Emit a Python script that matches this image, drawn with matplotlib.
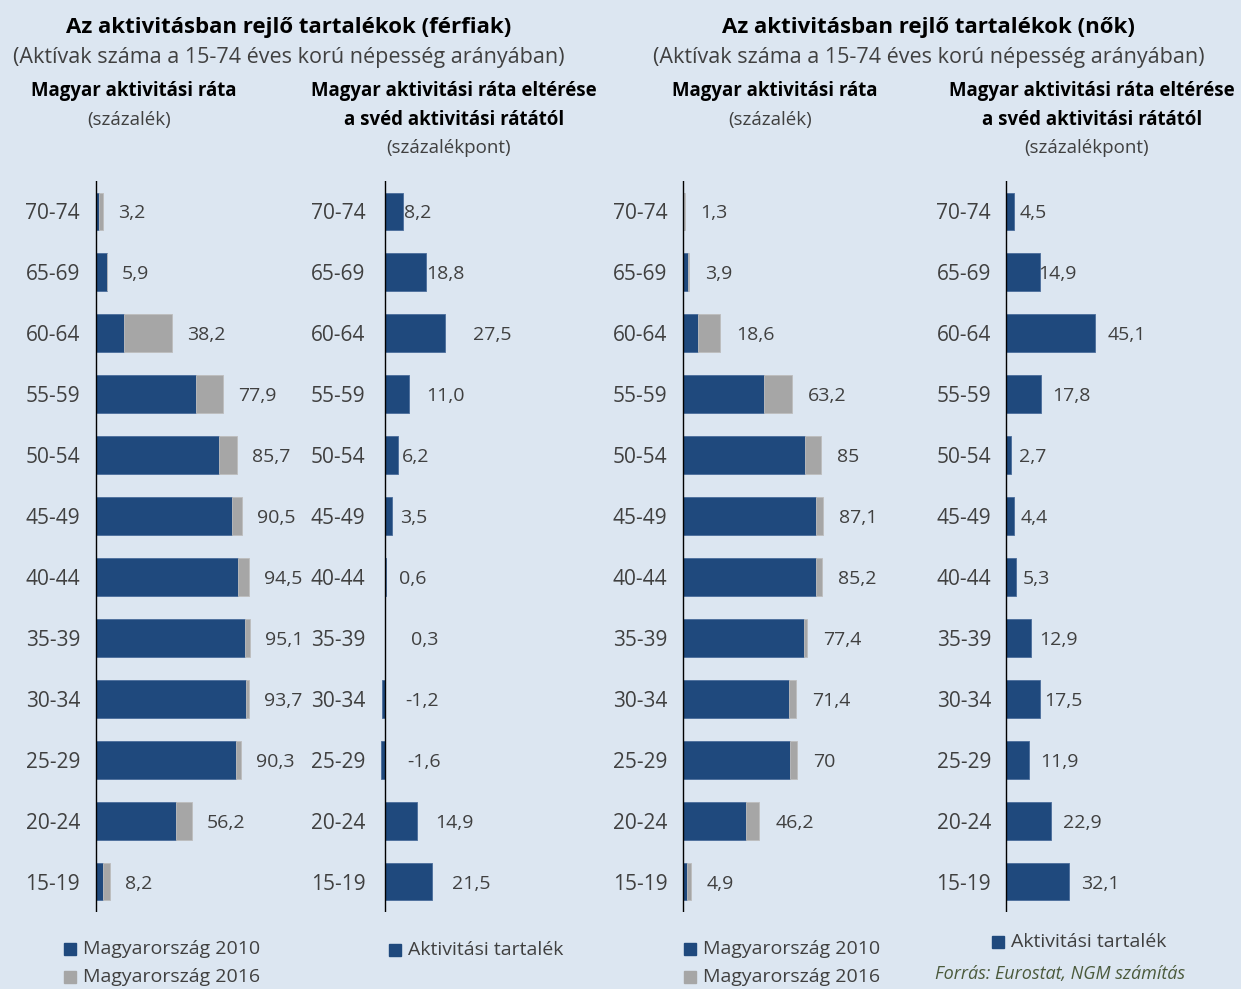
import matplotlib.pyplot as plt
import numpy as np
from matplotlib.patches import Rectangle

plt.rcParams['font.family'] = ['Open Sans', 'DejaVu Sans']

W, H = 1241, 989
BG = '#dce6f1'
BLUE = '#1f497d'
GREY = '#a6a6a6'
TXT = '#404040'

ages = ['70-74', '65-69', '60-64', '55-59', '50-54', '45-49',
        '40-44', '35-39', '30-34', '25-29', '20-24', '15-19']

# ferfiak
men_2010 = [2.0, 6.5, 17.0, 61.9, 76.1, 84.1, 87.8, 91.7, 92.3, 86.2, 49.4, 4.1]
men_2016 = [4.3, 6.5, 46.9, 78.6, 86.8, 90.3, 94.4, 94.8, 94.6, 89.5, 59.3, 8.4]
men_labels = ['3,2', '5,9', '38,2', '77,9', '85,7', '90,5', '94,5', '95,1',
              '93,7', '90,3', '56,2', '8,2']
men_gap = [8.2, 18.8, 27.5, 11.0, 6.2, 3.5, 0.6, 0.3, -1.2, -1.6, 14.9, 21.5]
men_gap_labels = ['8,2', '18,8', '27,5', '11,0', '6,2', '3,5', '0,6', '0,3',
                  '-1,2', '-1,6', '14,9', '21,5']

# nok
women_2010 = [1.2, 3.7, 9.7, 50.4, 75.7, 82.7, 82.1, 75.3, 65.7, 66.5, 39.3, 2.9]
women_2016 = [1.3, 3.9, 23.3, 67.5, 85.2, 87.0, 86.0, 76.8, 70.0, 70.8, 47.5, 5.2]
women_labels = ['1,3', '3,9', '18,6', '63,2', '85', '87,1', '85,2', '77,4',
                '71,4', '70', '46,2', '4,9']
women_gap = [4.3, 17.4, 45.5, 17.8, 2.4, 4.3, 5.1, 12.8, 17.4, 11.8, 22.9, 32.3]
women_gap_labels = ['4,5', '14,9', '45,1', '17,8', '2,7', '4,4', '5,3', '12,9',
                    '17,5', '11,9', '22,9', '32,1']

# label gaps (px) for the two difference panels
men_gap_off = [1, 0, 28, 17, 4, 8, 13, 26, 21, 23, 18, 20]
women_gap_off = [5, -2, 13, 11, 8, 6, 7, 8, 4, 11, 12, 12]

fig = plt.figure(figsize=(W / 100, H / 100), dpi=100)
fig.patch.set_facecolor(BG)

y = np.arange(len(ages))
TOP, BOT = 181, 912
FS = 14
TFS = 15
PFS = 13.4


def panel(x0, scale, x_right, tick_gap, margin=6):
    left = x0 - margin
    ax = fig.add_axes([left / W, 1 - BOT / H, (x_right - left) / W, (BOT - TOP) / H])
    ax.set_xlim(-margin / scale, (x_right - x0) / scale)
    ax.set_ylim(11.5, -0.5)
    ax.set_facecolor('none')
    for s in ax.spines.values():
        s.set_visible(False)
    ax.set_xticks([])
    ax.set_yticks(y)
    ax.set_yticklabels(ages, fontsize=TFS, color=TXT, va='center_baseline')
    ax.tick_params(axis='y', length=0, pad=(tick_gap - margin) * 0.72)
    ax.axvline(0, color='black', lw=1.0, zorder=5)
    return ax


def value_label(ax, t, x, i, off):
    ax.annotate(t, (x, i), xytext=(off * 0.72, 0), textcoords='offset points',
                va='center_baseline', ha='left', fontsize=FS, color=TXT)


def px_text(x, yy, s, **kw):
    fig.text(x / W, 1 - yy / H, s, ha='center', va='center', **kw)


# panel 1: male rates
ax1 = panel(96, 1.62, 300, 16)
ax1.barh(y, men_2010, height=0.62, color=BLUE, edgecolor='#4a6c9b', lw=0.6)
ax1.barh(y, np.array(men_2016) - np.array(men_2010), left=men_2010, height=0.62,
         color=GREY, edgecolor='#bdbdbd', lw=0.6)
for i, t in enumerate(men_labels):
    value_label(ax1, t, men_2016[i], i, 15)

# panel 2: male gap
ax2 = panel(384.5, 2.2, 600, 19)
ax2.barh(y, men_gap, height=0.62, color=BLUE, edgecolor='#4a6c9b', lw=0.6)
for i, t in enumerate(men_gap_labels):
    value_label(ax2, t, max(men_gap[i], 0), i, men_gap_off[i])

# panel 3: female rates
ax3 = panel(682.5, 1.62, 900, 15)
ax3.barh(y, women_2010, height=0.62, color=BLUE, edgecolor='#4a6c9b', lw=0.6)
ax3.barh(y, np.array(women_2016) - np.array(women_2010), left=women_2010, height=0.62,
         color=GREY, edgecolor='#bdbdbd', lw=0.6)
for i, t in enumerate(women_labels):
    value_label(ax3, t, women_2016[i], i, 16)

# panel 4: female gap
ax4 = panel(1006, 1.95, 1235, 15)
ax4.barh(y, women_gap, height=0.62, color=BLUE, edgecolor='#4a6c9b', lw=0.6)
for i, t in enumerate(women_gap_labels):
    value_label(ax4, t, max(women_gap[i], 0), i, women_gap_off[i])

# titles
px_text(289, 27, 'Az aktivitásban rejlő tartalékok (férfiak)', fontsize=16, fontweight='bold')
px_text(928, 27, 'Az aktivitásban rejlő tartalékok (nők)', fontsize=16, fontweight='bold')
sub = '(Aktívak száma a 15-74 éves korú népesség arányában)'
px_text(289, 58, sub, fontsize=15.5, color=TXT)
px_text(929, 58, sub, fontsize=15.5, color=TXT)

for cx in (134, 775):
    px_text(cx, 91, 'Magyar aktivitási ráta', fontsize=PFS, fontweight='bold')
    px_text(cx - 5, 120, '(százalék)', fontsize=13.5, color=TXT)
for cx in (454, 1092):
    px_text(cx, 91, 'Magyar aktivitási ráta eltérése', fontsize=PFS, fontweight='bold')
    px_text(cx, 120, 'a svéd aktivitási rátától', fontsize=PFS, fontweight='bold')
    px_text(cx - 5, 148, '(százalékpont)', fontsize=13.5, color=TXT)


# legends
def legend_item(x, yy, color, label):
    fig.add_artist(Rectangle((x / W, 1 - (yy + 6) / H), 12 / W, 12 / H,
                             transform=fig.transFigure, color=color))
    fig.text((x + 19) / W, 1 - yy / H, label, ha='left', va='center',
             fontsize=14, color=TXT)


legend_item(64, 949, BLUE, 'Magyarország 2010')
legend_item(64, 977, GREY, 'Magyarország 2016')
legend_item(389, 950, BLUE, 'Aktivitási tartalék')
legend_item(684, 949, BLUE, 'Magyarország 2010')
legend_item(684, 977, GREY, 'Magyarország 2016')
legend_item(992, 942, BLUE, 'Aktivitási tartalék')

fig.text(935 / W, 1 - 965 / H, 'Forrás: Eurostat, NGM számítás', ha='left', va='top',
         fontsize=13, style='italic', color='#4b5a3c')

fig.savefig('out.png', dpi=100, facecolor=BG)
